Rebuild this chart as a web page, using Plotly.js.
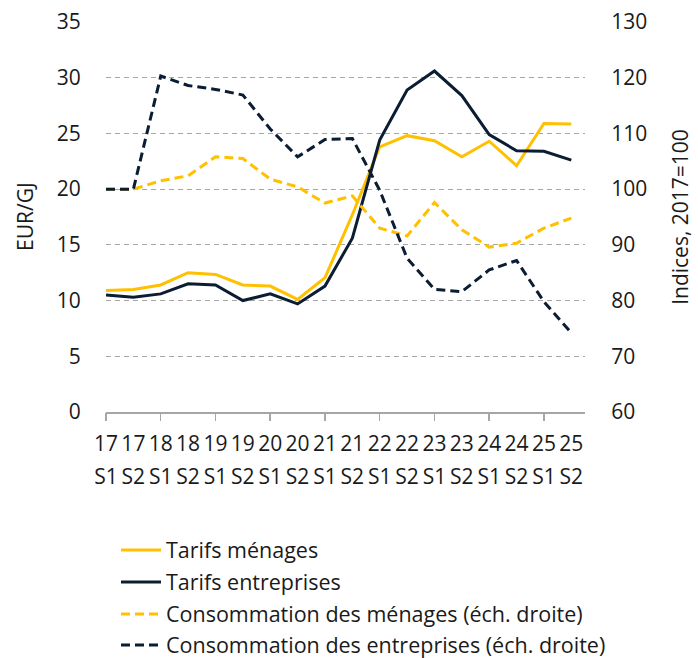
<!DOCTYPE html>
<html>
<head>
<meta charset="utf-8">
<script src="https://cdn.plot.ly/plotly-3.0.1.min.js"></script>
<style>html,body{margin:0;padding:0;background:#fff}#chart{width:698px;height:658px}</style>
</head>
<body>
<div id="chart"></div>
<script>
// Data
const years = ["17","17","18","18","19","19","20","20","21","21","22","22","23","23","24","24","25","25"];
const semesters = ["S1","S2","S1","S2","S1","S2","S1","S2","S1","S2","S1","S2","S1","S2","S1","S2","S1","S2"];
const tarifsMenages = [10.9, 11.0, 11.4, 12.5, 12.35, 11.4, 11.3, 10.1, 12.05, 17.7, 23.8, 24.8, 24.35, 22.9, 24.3, 22.1, 25.9, 25.85];
const tarifsEntreprises = [10.5, 10.3, 10.6, 11.5, 11.4, 10.0, 10.6, 9.7, 11.3, 15.6, 24.4, 28.9, 30.6, 28.4, 24.9, 23.45, 23.4, 22.6];
const consoMenages = [100, 100, 101.5, 102.4, 105.8, 105.5, 101.8, 100.4, 97.5, 98.8, 93.0, 91.6, 97.6, 92.7, 89.6, 90.3, 93.0, 94.8];
const consoEntreprises = [100, 100, 120.3, 118.6, 117.9, 116.9, 110.8, 105.8, 108.9, 109.1, 99.8, 87.6, 82.0, 81.6, 85.5, 87.2, 79.8, 74.2];
const names = ["Tarifs ménages", "Tarifs entreprises", "Consommation des ménages (éch. droite)", "Consommation des entreprises (éch. droite)"];

const idx = years.map((_, i) => i);
const majorTicks = idx.filter(i => i % 2 === 0);

const YELLOW = "#FFC000";
const NAVY = "#0B1D33";
const TXT = "#1a1a1a";
const FONT = "Open Sans, Noto Sans, sans-serif";
const FS = 21;

const data = [
  {x: idx, y: tarifsMenages, name: names[0], type: "scatter", mode: "lines",
   line: {color: YELLOW, width: 3}, legend: "legend", yaxis: "y"},
  {x: idx, y: tarifsEntreprises, name: names[1], type: "scatter", mode: "lines",
   line: {color: NAVY, width: 3}, legend: "legend2", yaxis: "y"},
  {x: idx, y: consoMenages, name: names[2], type: "scatter", mode: "lines",
   line: {color: YELLOW, width: 3, dash: "9px,5px"}, legend: "legend3", yaxis: "y2"},
  {x: idx, y: consoEntreprises, name: names[3], type: "scatter", mode: "lines",
   line: {color: NAVY, width: 3, dash: "9px,5px"}, legend: "legend4", yaxis: "y2"},
  // helper traces so the overlay axes (tick marks, second label row) are drawn
  {x: majorTicks, y: majorTicks.map(() => 0), xaxis: "x2", yaxis: "y", type: "scatter", mode: "none",
   showlegend: false, hoverinfo: "skip"},
  {x: idx, y: idx.map(() => 0), xaxis: "x3", yaxis: "y", type: "scatter", mode: "none",
   showlegend: false, hoverinfo: "skip"}
];

function legendAt(rowCenterPx) {
  return {
    orientation: "v", xref: "container", yref: "container",
    x: 116 / 698, xanchor: "left", y: 1 - rowCenterPx / 658, yanchor: "middle",
    font: {family: FONT, size: 21.5, color: TXT},
    bgcolor: "rgba(0,0,0,0)", itemwidth: 40
  };
}

const layout = {
  width: 698, height: 658,
  margin: {l: 106, r: 113, t: 22, b: 246, autoexpand: false},
  paper_bgcolor: "#fff", plot_bgcolor: "#fff",
  font: {family: FONT, size: FS, color: TXT},
  showlegend: true,
  legend: legendAt(550),
  legend2: legendAt(582),
  legend3: legendAt(614),
  legend4: legendAt(645),
  xaxis: {
    type: "linear", range: [0, 17.5], tickmode: "array", tickvals: idx, ticktext: years,
    ticks: "", showgrid: false, zeroline: false, ticklabelstandoff: 12,
    showline: true, linecolor: "#A6A6A6", linewidth: 1.5,
    tickfont: {family: FONT, size: FS, color: TXT}
  },
  xaxis2: {
    type: "linear", range: [0, 17.5], overlaying: "x", anchor: "y", side: "bottom",
    tickmode: "array", tickvals: majorTicks, ticks: "outside", ticklen: 8, tickwidth: 1.5,
    tickcolor: "#A6A6A6", showticklabels: false, showgrid: false, zeroline: false, showline: false
  },
  xaxis3: {
    type: "linear", range: [0, 17.5], overlaying: "x", anchor: "y", side: "bottom",
    tickmode: "array", tickvals: idx, ticktext: semesters, ticks: "", ticklabelstandoff: 50,
    showgrid: false, zeroline: false, showline: false,
    tickfont: {family: FONT, size: FS, color: TXT}
  },
  yaxis: {
    range: [0, 35], dtick: 5, tick0: 0, showgrid: true, gridcolor: "#A6A6A6", gridwidth: 1,
    griddash: "5px,4px", zeroline: false,
    ticks: "outside", ticklen: 20, tickcolor: "rgba(0,0,0,0)",
    tickfont: {family: FONT, size: FS, color: TXT}
  },
  yaxis2: {
    range: [60, 130], dtick: 10, tick0: 60, overlaying: "y", side: "right",
    showgrid: false, zeroline: false,
    ticks: "outside", ticklen: 21, tickcolor: "rgba(0,0,0,0)",
    title: {text: "Indices, 2017=100", standoff: 27, font: {family: FONT, size: FS, color: TXT}},
    tickfont: {family: FONT, size: FS, color: TXT}
  },
  annotations: [{
    text: "EUR/GJ", xref: "paper", yref: "paper", x: (25 - 106) / 479, y: 0.5,
    xanchor: "center", yanchor: "middle", textangle: -90, showarrow: false,
    font: {family: FONT, size: FS, color: TXT}
  }]
};

Plotly.newPlot("chart", data, layout, {displayModeBar: false, staticPlot: true});
</script>
</body>
</html>
